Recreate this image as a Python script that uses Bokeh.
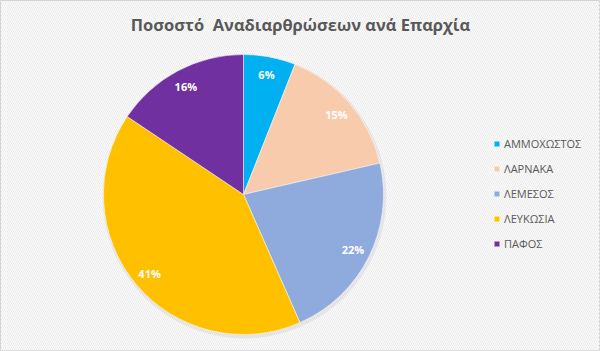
import math
from bokeh.plotting import figure
from bokeh.models import Legend, LegendItem, ColumnDataSource, BoxAnnotation, Range1d
from bokeh.core.properties import value
from bokeh.embed import file_html
from bokeh.resources import INLINE

# Data
regions = ["ΑΜΜΟΧΩΣΤΟΣ", "ΛΑΡΝΑΚΑ", "ΛΕΜΕΣΟΣ", "ΛΕΥΚΩΣΙΑ", "ΠΑΦΟΣ"]
shares = [6.0, 15.4, 22.0, 41.0, 15.6]
colors = ["#00b0f0", "#f8cbad", "#8faadc", "#ffc000", "#7030a0"]
title_text = "Ποσοστό\u00a0 Αναδιαρθρώσεων ανά Επαρχία"

W, H = 600, 351
cx, cy, r = 243, 157, 140

total = sum(shares)
starts, ends, lx, ly, labels = [], [], [], [], []
cum = 0.0
for s in shares:
    a0 = math.pi / 2 - 2 * math.pi * cum / total
    cum += s
    a1 = math.pi / 2 - 2 * math.pi * cum / total
    starts.append(a0)
    ends.append(a1)
    mid = (a0 + a1) / 2
    lx.append(cx + 0.875 * r * math.cos(mid))
    ly.append(cy + 0.875 * r * math.sin(mid))
    labels.append(f"{round(100 * s / total)}%")

src = ColumnDataSource(dict(region=regions, share=shares, color=colors,
                            start=starts, end=ends, lx=lx, ly=ly, label=labels,
                            x=[cx] * len(shares), y=[cy] * len(shares)))

p = figure(width=W, height=H, output_backend="svg", toolbar_location=None,
           x_range=Range1d(0, W), y_range=Range1d(0, H), min_border=0)
p.axis.visible = False
p.grid.visible = False
p.background_fill_color = "#fbfbfb"
p.border_fill_color = "#ffffff"
p.outline_line_color = "#d0d0d0"

p.add_layout(BoxAnnotation(fill_color=None, line_color=None,
                           hatch_pattern="left_diagonal_line", hatch_color="#ececec",
                           hatch_scale=4, hatch_weight=1, level="underlay"))

# soft shadow
p.circle(x=[cx + 1], y=[cy - 2], radius=r + 2, fill_color="#000000", fill_alpha=0.06, line_color=None)

w = p.wedge(x="x", y="y", radius=r, start_angle="start", end_angle="end",
            direction="clock", fill_color="color", line_color="white", line_width=0.5,
            source=src)

p.text(x="lx", y="ly", text="label", source=src, text_color="white",
       text_font=value("Open Sans"), text_font_style="bold", text_font_size="11px",
       text_align="center", text_baseline="middle")

p.text(x=[W / 2], y=[H - 24], text=[title_text], text_color="#595959",
       text_font=value("Open Sans"), text_font_style="bold", text_font_size="16.5px",
       text_align="center", text_baseline="middle")

items = [LegendItem(label=regions[i], renderers=[w], index=i) for i in range(len(regions))]
legend = Legend(items=items, location=(493, 100), orientation="vertical",
                label_text_font="Open Sans", label_text_font_size="11px",
                label_text_color="#595959", glyph_width=7, glyph_height=7,
                label_height=11, spacing=10, padding=0, margin=0,
                label_standoff=4, border_line_color=None, background_fill_alpha=0)
p.add_layout(legend)

open("out.html", "w").write(file_html(p, INLINE))
